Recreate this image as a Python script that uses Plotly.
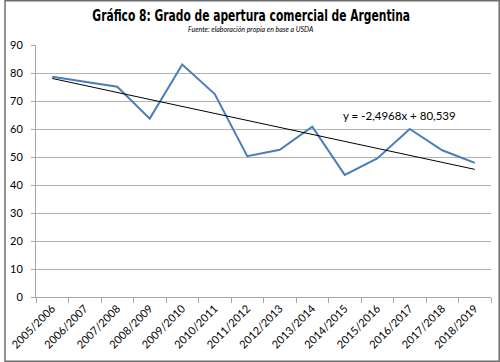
import plotly.graph_objects as go

categories = ["2005/2006", "2006/2007", "2007/2008", "2008/2009", "2009/2010",
              "2010/2011", "2011/2012", "2012/2013", "2013/2014", "2014/2015",
              "2015/2016", "2016/2017", "2017/2018", "2018/2019"]
apertura = [78.7, 76.9, 75.1, 63.7, 83.0, 72.5, 50.3, 52.6, 60.8, 43.6,
            49.5, 60.0, 52.4, 47.9]
trend_slope = -2.4968
trend_intercept = 80.539
y_ticks = [0, 10, 20, 30, 40, 50, 60, 70, 80, 90]

trend = [trend_slope * (i + 1) + trend_intercept for i in range(len(categories))]

W, H = 500, 362
L, R, T, B = 32, 9, 45, 65
pw, ph = W - L - R, H - T - B


def px_x(p):
    return (p - L) / pw


def px_y(p):
    return (H - B - p) / ph


fig = go.Figure()
fig.add_trace(go.Scatter(x=categories, y=apertura, mode="lines",
                         line=dict(color="#4A7EBB", width=2), showlegend=False))
fig.add_trace(go.Scatter(x=categories, y=trend, mode="lines",
                         line=dict(color="#000000", width=1), showlegend=False))

tick_font = dict(family="Lato, 'Open Sans', sans-serif", size=11, color="#000000")

fig.update_layout(
    width=W, height=H,
    margin=dict(l=L, r=R, t=T, b=B, pad=0),
    paper_bgcolor="white", plot_bgcolor="white",
    xaxis=dict(type="category", range=[-0.5, len(categories) - 0.5],
               tickson="boundaries", ticks="outside", ticklen=5, tickcolor="#a6a6a6",
               showline=True, linecolor="#a6a6a6", linewidth=1, showgrid=False,
               tickangle=-45, tickfont=tick_font, zeroline=False),
    yaxis=dict(range=[0, 90], tickvals=y_ticks, ticks="outside", ticklen=4,
               tickcolor="#a6a6a6", showline=True, linecolor="#a6a6a6", linewidth=1,
               showgrid=True, gridcolor="#b3b3b3", gridwidth=1, zeroline=False,
               tickfont=tick_font, ticklabelstandoff=6),
    annotations=[
        dict(text="<span style='font-stretch:condensed'><b>Gráfico 8: Grado de apertura comercial de Argentina</b></span>",
             xref="paper", yref="paper", x=px_x(249), y=px_y(16),
             xanchor="center", yanchor="middle", showarrow=False,
             font=dict(family="'DejaVu Sans', sans-serif",
                       size=15, color="#000000")),
        dict(text="<i>Fuente: elaboración propia en base a USDA</i>",
             xref="paper", yref="paper", x=px_x(249), y=px_y(28.5),
             xanchor="center", yanchor="middle", showarrow=False,
             font=dict(family="Lato, sans-serif", size=7, color="#000000")),
        dict(text="y = -2,4968x + 80,539",
             xref="paper", yref="paper", x=px_x(399), y=px_y(115),
             xanchor="center", yanchor="middle", showarrow=False,
             font=dict(family="Lato, sans-serif", size=11.5, color="#000000")),
    ],
    shapes=[dict(type="rect", xref="paper", yref="paper",
                 x0=px_x(0.75), x1=px_x(W - 0.75), y0=px_y(0.75), y1=px_y(H - 0.75),
                 line=dict(color="#6e6e6e", width=1.5), layer="above")],
)

post = """
document.body.style.margin='0';
document.body.style.overflow='hidden';
(function(){
  var gd = document.getElementById('{plot_id}');
  function squeeze(){
    var t = gd.querySelectorAll('.annotation-text')[0];
    if (!t || t.getAttribute('data-sq')) return;
    var b = t.getBBox();
    if (!b.width) return;
    var s = 318 / b.width;
    var cx = b.x + b.width / 2;
    var tr = t.getAttribute('transform') || '';
    t.setAttribute('transform', tr + ' translate(' + cx + ',0) scale(' + s + ',1) translate(' + (-cx) + ',0)');
    t.setAttribute('data-sq', '1');
  }
  try { squeeze(); } catch(e) {}
  setTimeout(function(){ try { squeeze(); } catch(e) {} }, 30);
})();
"""

fig.write_html("out.html", config={"displayModeBar": False}, post_script=post)
